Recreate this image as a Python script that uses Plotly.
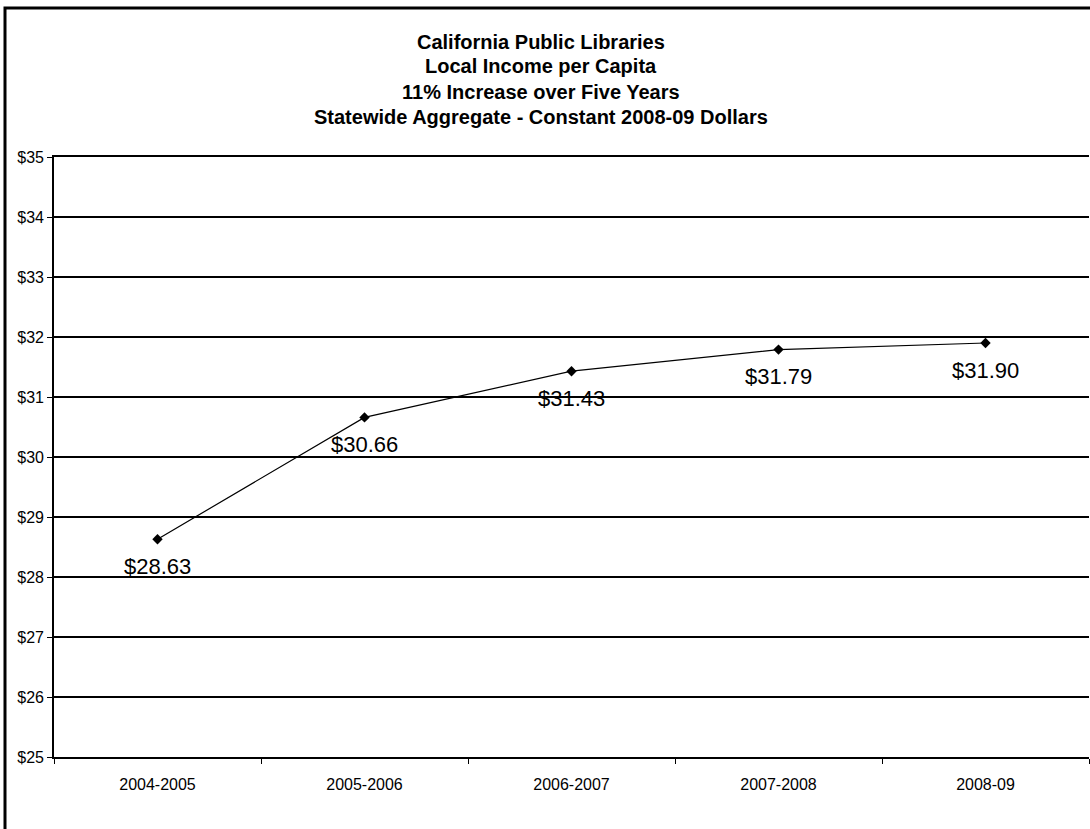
import plotly.graph_objects as go

# --- Data ---
years = ["2004-2005", "2005-2006", "2006-2007", "2007-2008", "2008-09"]
income = [28.63, 30.66, 31.43, 31.79, 31.90]
labels = ["$28.63", "$30.66", "$31.43", "$31.79", "$31.90"]
y_ticks = [25, 26, 27, 28, 29, 30, 31, 32, 33, 34, 35]

title_lines = [
    "California Public Libraries",
    "Local Income per Capita",
    "11% Increase over Five Years",
    "Statewide Aggregate - Constant 2008-09 Dollars",
]

FONT = "Arial, Liberation Sans, sans-serif"

# plot area in page pixels: x 54..1089, y 157..757
L, T, W, H = 54, 157, 1035, 600


def px_x(p):
    return (p - L) / W


def px_y(p):
    return (T + H - p) / H


fig = go.Figure(
    go.Scatter(
        x=years,
        y=income,
        mode="lines+markers",
        line=dict(color="#000000", width=1.2),
        marker=dict(symbol="diamond", size=8, color="#000000"),
        showlegend=False,
        hoverinfo="x+y",
    )
)

# value labels under each point
for yr, val, lab in zip(years, income, labels):
    fig.add_annotation(
        x=yr, y=val, text=lab, showarrow=False,
        yshift=-27, font=dict(family=FONT, size=22, color="#000000"),
    )

# title, one annotation per line so the spacing stays tight
for i, line in enumerate(title_lines):
    fig.add_annotation(
        xref="paper", yref="paper", x=px_x(541), y=px_y(41.5 + 25 * i),
        xanchor="center", yanchor="middle", showarrow=False,
        text=f"<b>{line}</b>",
        font=dict(family=FONT, size=20, color="#000000"),
    )

# outer chart border (runs off the right and bottom of the picture)
fig.add_shape(
    type="rect", xref="paper", yref="paper",
    x0=px_x(5), x1=1.05, y0=-0.3, y1=px_y(8),
    line=dict(color="#000000", width=3), layer="below",
)

fig.update_layout(
    width=1090,
    height=829,
    paper_bgcolor="#ffffff",
    plot_bgcolor="#ffffff",
    margin=dict(l=L, r=1090 - L - W, t=T, b=829 - T - H, pad=0),
    font=dict(family=FONT, color="#000000"),
    xaxis=dict(
        type="category",
        tickson="boundaries",
        ticks="outside",
        ticklen=5,
        tickcolor="#000000",
        showgrid=False,
        showline=True,
        mirror=True,
        linecolor="#000000",
        linewidth=1.6,
        tickfont=dict(size=16),
        ticklabelstandoff=12,
        range=[-0.5, 4.5],
    ),
    yaxis=dict(
        range=[25, 35],
        tickvals=y_ticks,
        ticktext=[f"${v}" for v in y_ticks],
        ticks="outside",
        ticklen=5,
        tickcolor="#000000",
        showgrid=True,
        gridcolor="#000000",
        gridwidth=1.6,
        showline=True,
        linecolor="#000000",
        linewidth=1.6,
        zeroline=False,
        tickfont=dict(size=16),
    ),
)

# drop the default page margin so the figure sits at the window's corner
fig.write_html(
    "out.html",
    config={"displayModeBar": False},
    post_script="document.body.style.margin='0px';",
)
